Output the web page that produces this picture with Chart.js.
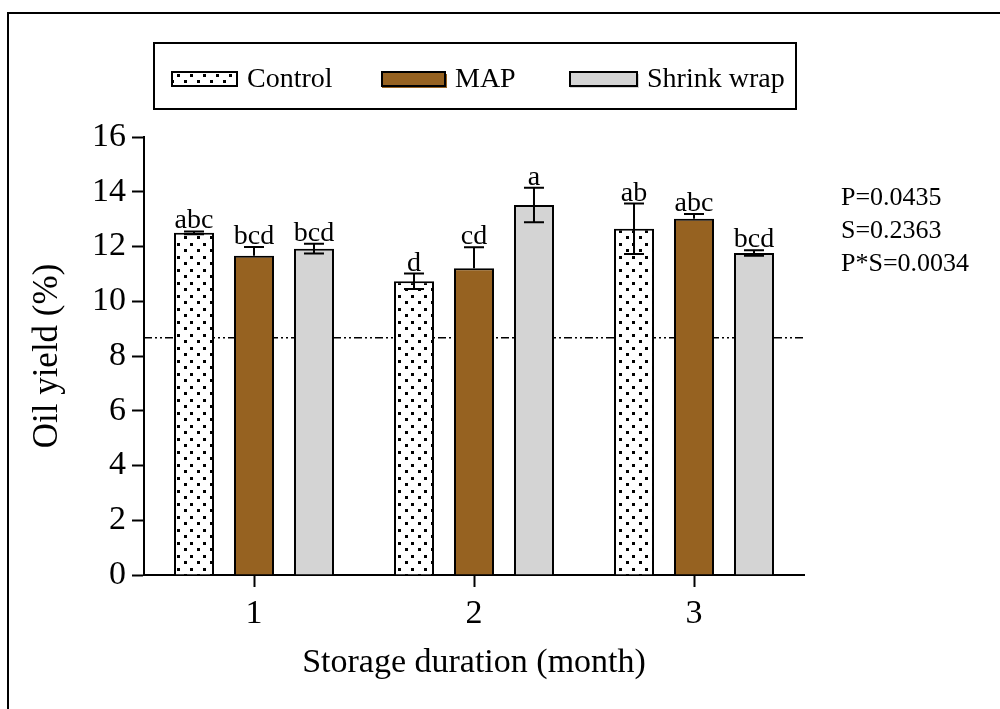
<!DOCTYPE html>
<html>
<head>
<meta charset="utf-8">
<script src="https://cdn.jsdelivr.net/npm/chart.js@4.4.1/dist/chart.umd.min.js"></script>
<style>
  html, body { margin: 0; padding: 0; background: #fff; }
  #wrap { width: 1000px; height: 709px; }
</style>
</head>
<body>
<div id="wrap"><canvas id="oilChart" width="1000" height="709"></canvas></div>
<script>
// data
const months = ['1', '2', '3'];
const seriesNames = ['Control', 'MAP', 'Shrink wrap'];
const controlVals = [12.50, 10.73, 12.65];
const controlErr  = [0.05, 0.28, 0.92];
const mapVals     = [11.66, 11.21, 13.01];
const mapErr      = [0.32, 0.76, 0.18];
const shrinkVals  = [11.92, 13.52, 11.76];
const shrinkErr   = [0.18, 0.63, 0.10];
const controlLetters = ['abc', 'd', 'ab'];
const mapLetters     = ['bcd', 'cd', 'abc'];
const shrinkLetters  = ['bcd', 'a', 'bcd'];
const yTicks = [0, 2, 4, 6, 8, 10, 12, 14, 16];
const refLine = 8.67;
const statsText = ['P=0.0435', 'S=0.2363', 'P*S=0.0034'];

const FONT = '"Liberation Serif", "Times New Roman", serif';
const BROWN = '#966221';
const GREY = '#d4d4d4';

document.addEventListener('DOMContentLoaded', () => {
  // dotted fill for the Control bars
  const tile = document.createElement('canvas');
  tile.width = 13; tile.height = 13;
  const tc = tile.getContext('2d');
  tc.fillStyle = '#fff';
  tc.fillRect(0, 0, 13, 13);
  tc.fillStyle = '#000';
  tc.fillRect(2, 2, 3, 3);
  tc.fillRect(8, 9, 3, 3);
  const canvas = document.getElementById('oilChart');
  const dots = canvas.getContext('2d').createPattern(tile, 'repeat');

  /* ===== reference line (behind bars) ===== */
  const refLinePlugin = {
    id: 'refLine',
    beforeDatasetsDraw(chart) {
      const { ctx, chartArea } = chart;
      const yy = chart.scales.y.getPixelForValue(refLine);
      ctx.save();
      ctx.strokeStyle = '#000';
      ctx.lineWidth = 1.5;
      ctx.setLineDash([8, 3, 2, 3, 2, 3]);
      ctx.beginPath();
      ctx.moveTo(chartArea.left, yy);
      ctx.lineTo(chartArea.right, yy);
      ctx.stroke();
      ctx.restore();
    }
  };

  /* ===== error bars + letters ===== */
  const errorBars = {
    id: 'errorBars',
    afterDatasetsDraw(chart) {
      const ctx = chart.ctx, y = chart.scales.y;
      chart.data.datasets.forEach((ds, di) => {
        chart.getDatasetMeta(di).data.forEach((bar, i) => {
          const v = ds.data[i], e = ds.errors[i];
          const top = y.getPixelForValue(v + e);
          const bot = ds.upOnly ? bar.y : y.getPixelForValue(v - e);
          ctx.save();
          ctx.strokeStyle = '#000';
          ctx.lineWidth = 2;
          ctx.beginPath();
          ctx.moveTo(bar.x, bot); ctx.lineTo(bar.x, top);
          ctx.moveTo(bar.x - 10, top); ctx.lineTo(bar.x + 10, top);
          if (!ds.upOnly) { ctx.moveTo(bar.x - 10, bot); ctx.lineTo(bar.x + 10, bot); }
          ctx.stroke();
          ctx.fillStyle = '#000';
          ctx.font = '28px ' + FONT;
          ctx.textAlign = 'center';
          ctx.textBaseline = 'alphabetic';
          ctx.fillText(ds.letters[i], bar.x, top - 3);
          ctx.restore();
        });
      });
    }
  };

  /* ===== legend box, stats text, outer frame ===== */
  const extras = {
    id: 'extras',
    afterDraw(chart) {
      const ctx = chart.ctx;
      ctx.save();
      ctx.strokeStyle = '#000';
      ctx.lineWidth = 2;
      ctx.strokeRect(8, 13, 1100, 800);
      ctx.strokeRect(154, 43, 642, 66);

      const swatches = [
        { x: 172, w: 65, fill: dots },
        { x: 382, w: 63, fill: BROWN },
        { x: 570, w: 67, fill: GREY }
      ];
      ctx.font = '28px ' + FONT;
      ctx.textBaseline = 'middle';
      ctx.textAlign = 'left';
      swatches.forEach((s, i) => {
        ctx.fillStyle = s.fill;
        if (i > 0) ctx.fillRect(s.x, 74, s.w + 2, 14); // little shadow like the original
        ctx.fillRect(s.x, 72, s.w, 14);
        ctx.lineWidth = 2;
        ctx.strokeRect(s.x, 72, s.w, 14);
        ctx.fillStyle = '#000';
        ctx.fillText(seriesNames[i], s.x + s.w + 10, 80);
      });

      ctx.font = '26px ' + FONT;
      ctx.textBaseline = 'alphabetic';
      statsText.forEach((t, i) => ctx.fillText(t, 841, 205 + i * 33));
      ctx.restore();
    }
  };

  const axisGrid = {
    display: true, drawOnChartArea: false, drawTicks: true,
    tickLength: 12, tickWidth: 2, tickColor: '#000', offset: false
  };

  new Chart(canvas, {
    type: 'bar',
    data: {
      labels: months,
      datasets: [
        { label: seriesNames[0], data: controlVals, errors: controlErr, letters: controlLetters,
          backgroundColor: dots, borderColor: '#000', borderWidth: 2 },
        { label: seriesNames[1], data: mapVals, errors: mapErr, letters: mapLetters, upOnly: true,
          backgroundColor: BROWN, borderColor: '#000', borderWidth: 2 },
        { label: seriesNames[2], data: shrinkVals, errors: shrinkErr, letters: shrinkLetters,
          backgroundColor: GREY, borderColor: '#000', borderWidth: 2 }
      ]
    },
    options: {
      responsive: false,
      animation: false,
      devicePixelRatio: 1,
      categoryPercentage: 0.818,
      barPercentage: 0.667,
      layout: { padding: { left: 0, top: 137, right: 196, bottom: 0 } },
      plugins: { legend: { display: false }, tooltip: { enabled: false } },
      scales: {
        x: {
          offset: true,
          grid: axisGrid,
          border: { display: true, color: '#000', width: 2 },
          ticks: { color: '#000', font: { family: FONT, size: 34 }, padding: 7 },
          title: { display: true, text: 'Storage duration (month)', color: '#000',
                   font: { family: FONT, size: 34 }, padding: { top: 0, bottom: 26 } },
          afterFit(s) { s.height = 134; }
        },
        y: {
          min: 0, max: 16,
          grid: axisGrid,
          border: { display: true, color: '#000', width: 2 },
          afterBuildTicks(s) { s.ticks = yTicks.map(v => ({ value: v })); },
          ticks: { color: '#000', font: { family: FONT, size: 34 }, padding: 6 },
          title: { display: true, text: 'Oil yield (%)', color: '#000',
                   font: { family: FONT, size: 35 }, padding: { top: 27, bottom: 0 } },
          afterFit(s) { s.width = 144; }
        }
      }
    },
    plugins: [refLinePlugin, errorBars, extras]
  });
});
</script>
</body>
</html>
